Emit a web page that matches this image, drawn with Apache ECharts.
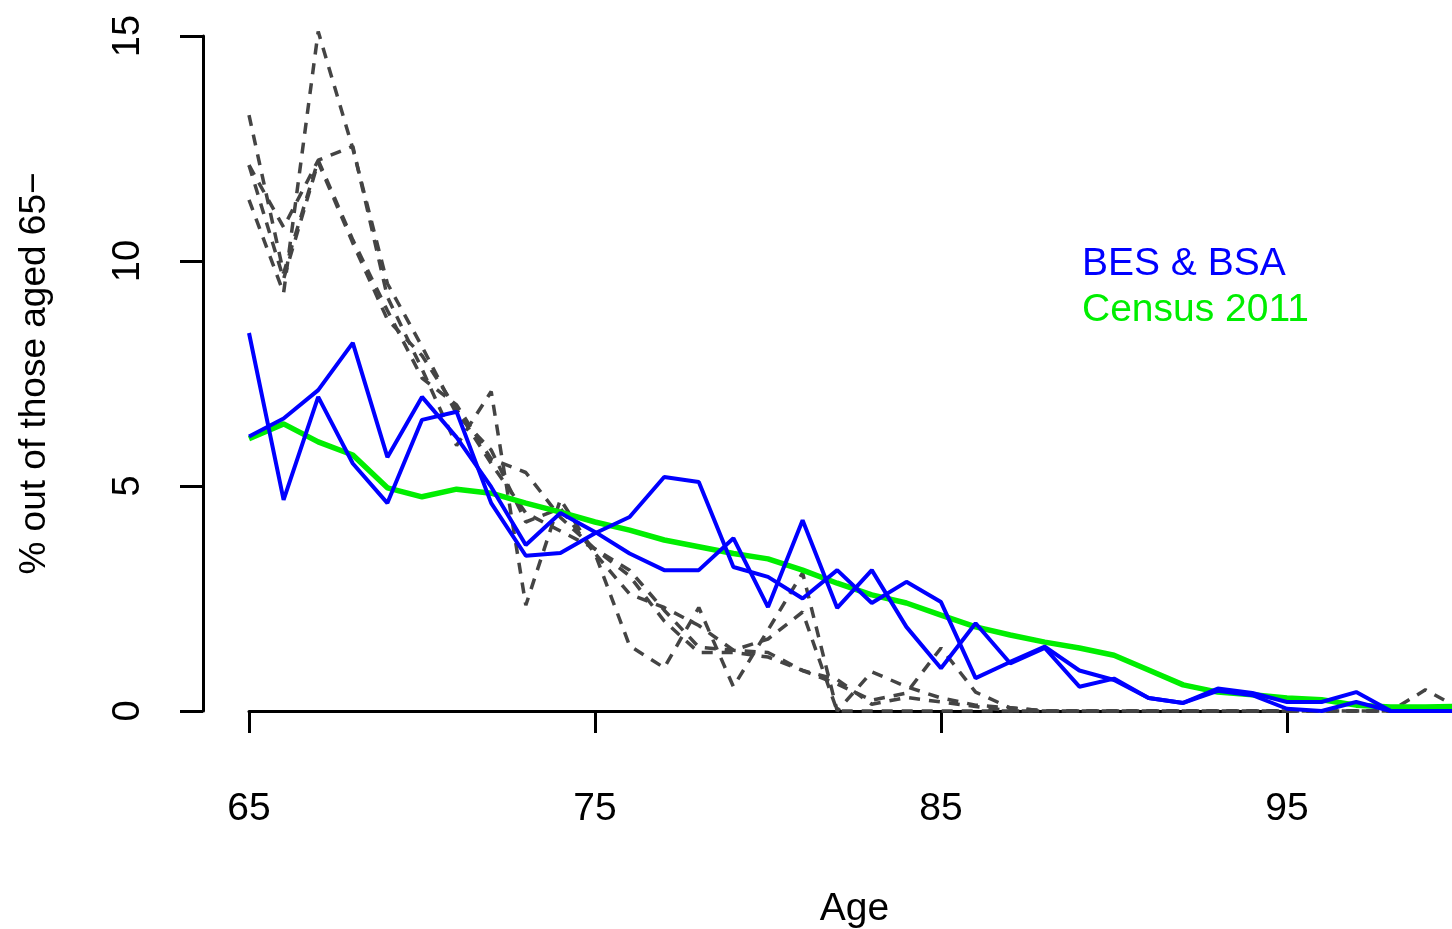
<!DOCTYPE html>
<html>
<head>
<meta charset="utf-8">
<script src="https://cdn.jsdelivr.net/npm/echarts@6/dist/echarts.min.js"></script>
<style>
html,body{margin:0;padding:0;background:#fff;}
#chart{width:1452px;height:929px;}
</style>
</head>
<body>
<div id="chart"></div>
<script>
const ages = [65,66,67,68,69,70,71,72,73,74,75,76,77,78,79,80,81,82,83,84,85,86,87,88,89,90,91,92,93,94,95,96,97,98,99,100];

const besA = [8.4,4.69,6.98,5.5,4.62,6.47,6.65,4.62,3.45,3.51,3.95,4.31,5.2,5.09,3.2,2.98,2.5,3.13,2.4,2.87,2.42,0.73,1.09,1.43,0.9,0.69,0.29,0.18,0.5,0.4,0.2,0.2,0.42,0,0,0];
const besB = [6.1,6.5,7.13,8.18,5.64,6.98,6.08,4.98,3.69,4.4,3.98,3.5,3.13,3.13,3.84,2.31,4.24,2.29,3.13,1.87,0.95,1.95,1.06,1.4,0.54,0.72,0.29,0.18,0.45,0.35,0.05,0,0.2,0,0,0];
const census = [6.05,6.38,5.98,5.69,4.96,4.76,4.93,4.84,4.62,4.42,4.2,4.02,3.8,3.65,3.5,3.38,3.13,2.84,2.58,2.4,2.13,1.87,1.69,1.53,1.4,1.24,0.91,0.58,0.42,0.36,0.29,0.25,0.13,0.09,0.09,0.1];

const gray1 = [13.24,9.73,12.24,10.47,8.9,7.4,6.8,5.6,5.3,4.3,3.6,3.13,2.24,1.42,1.35,1.3,0.9,0.6,0.24,0.4,1.4,0.42,0.07,0,0,0,0,0,0,0,0,0,0,0,0,0];
const gray2 = [11.36,9.29,15.1,12.5,9.5,8.1,6.6,5.8,4.2,4.5,3.5,1.45,0.96,2.3,0.54,1.8,3.07,0,0.87,0.54,0.29,0.13,0.07,0,0,0,0,0,0,0,0,0,0,0,0,0];
const gray3 = [12.13,10.75,12.24,12.55,9.2,7.6,5.9,7.1,2.35,4.7,3.5,2.6,2.3,1.9,1.35,1.6,2.2,0,0,0,0,0,0,0,0,0,0,0,0,0,0,0,0,0,0.47,0.05];
const gray4 = [12.13,9.6,12.2,10.4,8.7,7.9,6.7,5.5,4.4,4.0,3.6,3.0,2.0,1.3,1.3,1.2,0.9,0.7,0.15,0.3,0.2,0.1,0,0,0,0,0,0,0,0,0,0,0,0,0,0];

const yTicks = [0,5,10,15];
const xTicks = [65,75,85,95];

const FONT = 'Liberation Sans, Arial, sans-serif';
const pair = arr => ages.map((a,i)=>[a, arr[i]]);

const grayStyle = {color:'#444444', width:3.5, type:[11,9]};
function graySeries(arr){
  return {type:'line', name:'gray', xAxisIndex:0, yAxisIndex:0, data:pair(arr), showSymbol:false, clip:false,
    lineStyle:grayStyle, z:1, silent:true};
}

const chart = echarts.init(document.getElementById('chart'), null, {renderer:'canvas'});
chart.setOption({
  animation:false,
  backgroundColor:'#ffffff',
  textStyle:{fontFamily:FONT},
  grid:[
    {left:249, right:-8, top:36, bottom:218, containLabel:false, outerBoundsMode:'none'},
    {left:249, width:1038, top:36, bottom:218, containLabel:false, outerBoundsMode:'none'}
  ],
  xAxis:[
    {gridIndex:0, type:'value', min:65, max:100,
     axisLine:{show:false}, axisTick:{show:false}, axisLabel:{show:false}, splitLine:{show:false},
     name:'Age', nameLocation:'middle', nameGap:179,
     nameTextStyle:{fontSize:39, color:'#000', fontFamily:FONT}},
    {gridIndex:1, type:'value', min:xTicks[0], max:xTicks[xTicks.length-1], interval:10, offset:24,
     axisLine:{show:true, lineStyle:{color:'#000', width:3}},
     axisTick:{show:true, length:22, lineStyle:{color:'#000', width:3}},
     axisLabel:{show:true, margin:55, fontSize:39, color:'#000', fontFamily:FONT},
     splitLine:{show:false}}
  ],
  yAxis:[
    {gridIndex:0, type:'value', min:yTicks[0], max:yTicks[yTicks.length-1], interval:5, offset:46,
     axisLine:{show:true, lineStyle:{color:'#000', width:3}},
     axisTick:{show:true, length:23, lineStyle:{color:'#000', width:3}},
     axisLabel:{show:true, rotate:90, margin:55, fontSize:38, color:'#000', fontFamily:FONT},
     splitLine:{show:false},
     name:'% out of those aged 65\u2212', nameLocation:'middle', nameGap:150,
     nameTextStyle:{fontSize:37, color:'#000', fontFamily:FONT}},
    {gridIndex:1, type:'value', min:0, max:15, show:false}
  ],
  legend:{
    orient:'vertical', left:1072, top:240, itemGap:7, itemWidth:0, itemHeight:0, icon:'none',
    selectedMode:false,
    textStyle:{fontSize:39, fontFamily:FONT, lineHeight:39},
    data:[
      {name:'BES & BSA', textStyle:{color:'#0000ff'}},
      {name:'Census 2011', textStyle:{color:'#00ee00'}}
    ]
  },
  series:[
    graySeries(gray1), graySeries(gray2), graySeries(gray3), graySeries(gray4),
    {type:'line', name:'Census 2011', data:pair(census), showSymbol:false, clip:false,
     lineStyle:{color:'#00ee00', width:5.5}, itemStyle:{color:'#00ee00'}, z:2},
    {type:'line', name:'BES & BSA', data:pair(besA), showSymbol:false, clip:false,
     lineStyle:{color:'#0000ff', width:4}, itemStyle:{color:'#0000ff'}, z:3},
    {type:'line', name:'BES & BSA', data:pair(besB), showSymbol:false, clip:false,
     lineStyle:{color:'#0000ff', width:4}, itemStyle:{color:'#0000ff'}, z:3}
  ]
});
</script>
</body>
</html>
